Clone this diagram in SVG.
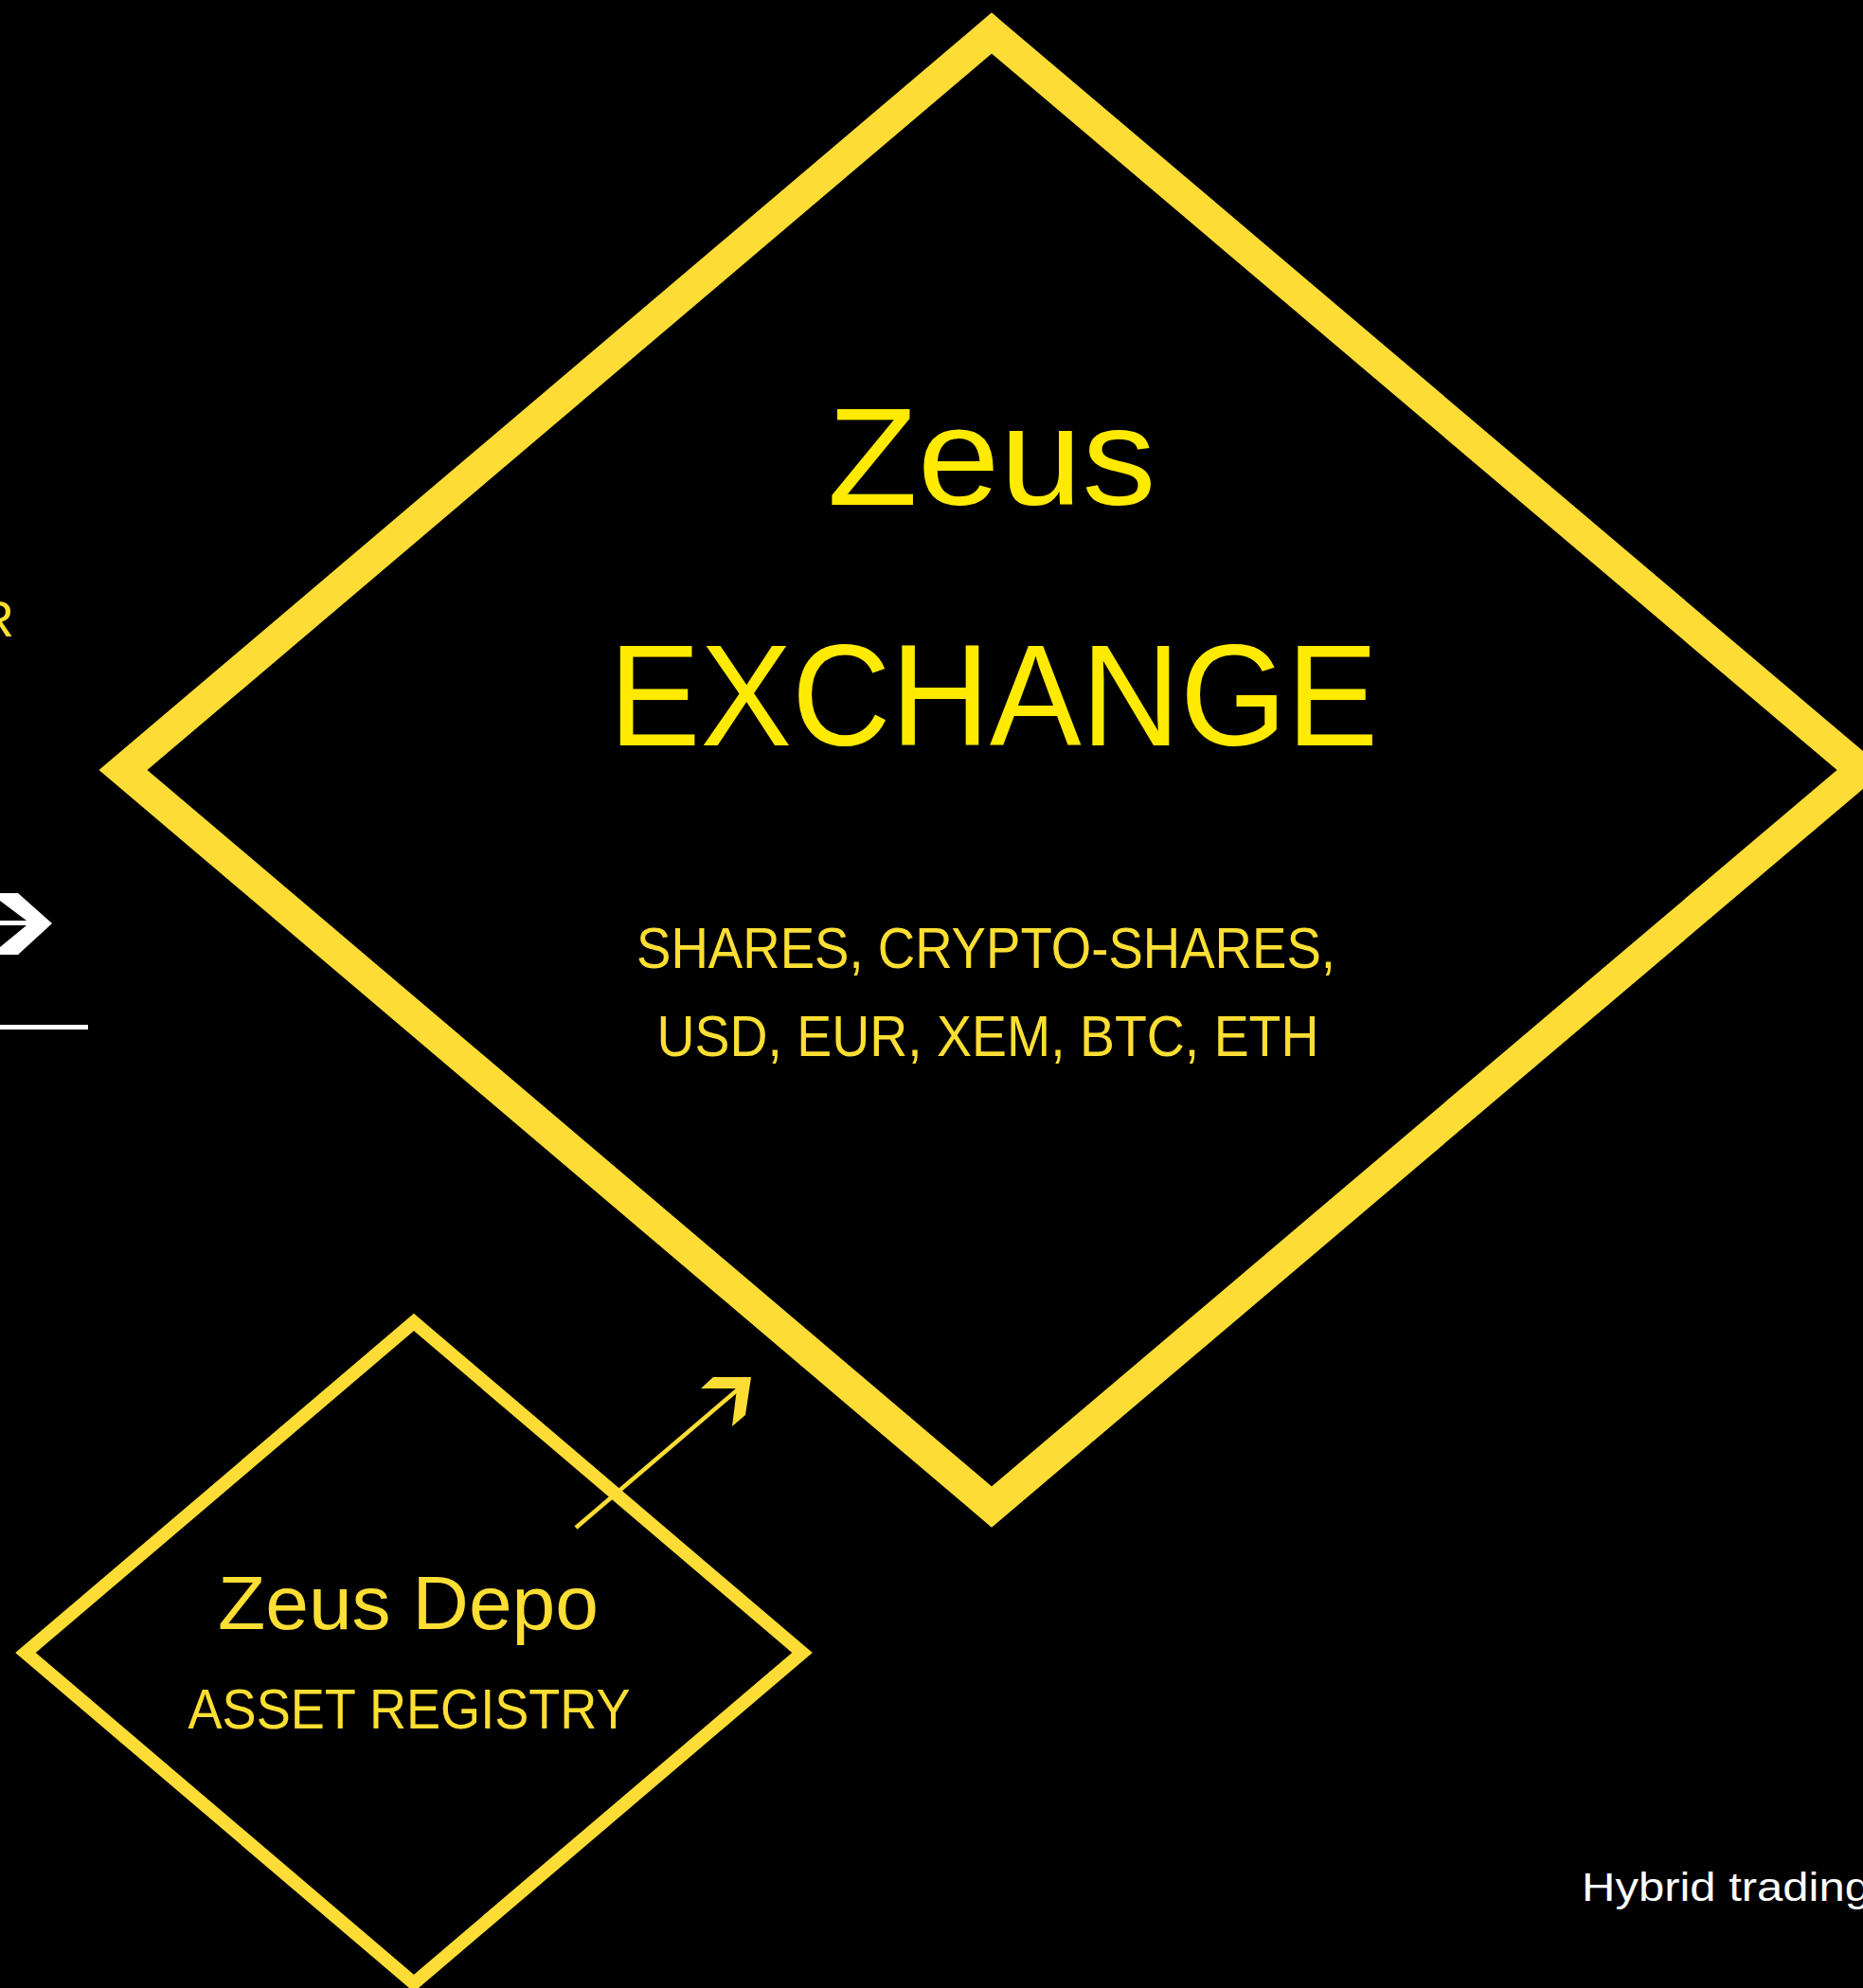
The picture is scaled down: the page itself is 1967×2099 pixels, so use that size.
<svg xmlns="http://www.w3.org/2000/svg" width="1967" height="2099" viewBox="0 0 1967 2099">
<style>
.bg{fill:#000}
.dia{fill:none;stroke:#FDDD35;stroke-linejoin:miter;stroke-miterlimit:10}
.t{font-family:"Liberation Sans","Open Sans",sans-serif;text-anchor:middle}
.big{fill:#FFEA00}
.sm{fill:#FDDE33}
.wh{fill:#FFFFFF}
</style>
<rect class="bg" x="0" y="0" width="1967" height="2099"/>
<g id="edge-label-left">
<text class="t sm" x="15" y="672" font-size="54" style="text-anchor:end">R</text>
</g>
<g id="left-arrow">
<path class="wh" d="M0,943 L19,943 L55,975 L19,1008 L0,1008 L0,1000 L28,977 L0,977 L0,972 L28,972 L0,951 Z"/>
<rect class="wh" x="0" y="1082" width="93" height="5"/>
</g>
<g id="zeus-exchange">
<polygon class="dia" stroke-width="33" points="1047,35 1965,813 1047,1591 130,813"/>
<text class="t big" x="1047" y="533" font-size="147" textLength="347" lengthAdjust="spacingAndGlyphs">Zeus</text>
<text class="t big" x="1049" y="787" font-size="152" textLength="812" lengthAdjust="spacingAndGlyphs">EXCHANGE</text>
<text class="t sm" x="1041" y="1022" font-size="61" textLength="738" lengthAdjust="spacingAndGlyphs">SHARES, CRYPTO-SHARES,</text>
<text class="t sm" x="1043" y="1115" font-size="61" textLength="699" lengthAdjust="spacingAndGlyphs">USD, EUR, XEM, BTC, ETH</text>
</g>
<g id="zeus-depo">
<polygon class="dia" stroke-width="14" points="437,1396 847,1745 437,2094 27,1745"/>
<text class="t sm" x="431" y="1720" font-size="79" textLength="402" lengthAdjust="spacingAndGlyphs">Zeus Depo</text>
<text class="t sm" x="432" y="1825" font-size="59" textLength="467" lengthAdjust="spacingAndGlyphs">ASSET REGISTRY</text>
</g>
<g id="connectors">
<line x1="608" y1="1613" x2="785" y2="1462" stroke="#FDDD35" stroke-width="4.5"/>
<polygon fill="#FDDD35" points="793,1454 753,1454 740,1466 778,1466 773,1506 787,1494"/>
</g>
<g id="caption">
<text class="t wh" x="1670" y="2007" font-size="43" style="text-anchor:start" textLength="305" lengthAdjust="spacingAndGlyphs">Hybrid trading</text>
</g>
</svg>
